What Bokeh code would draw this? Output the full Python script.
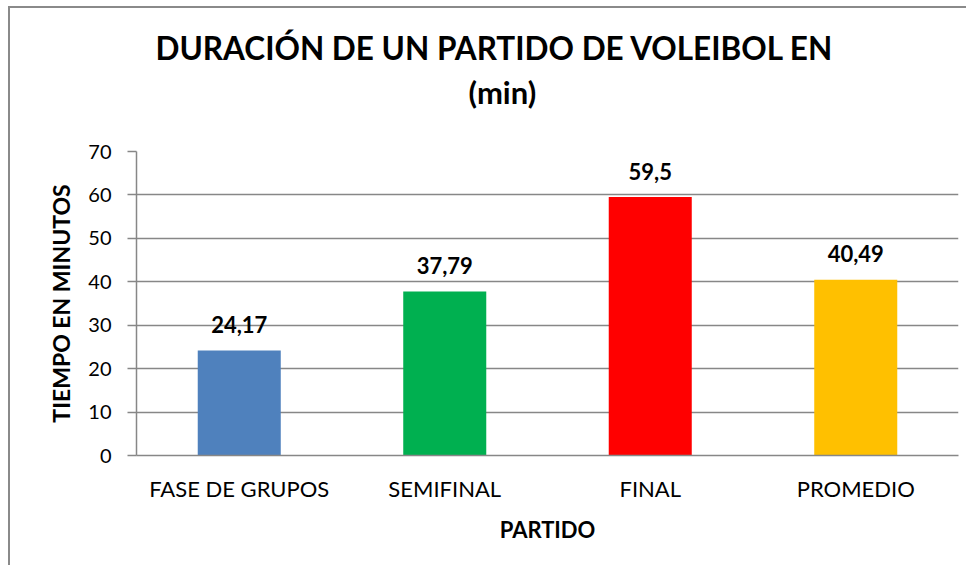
from bokeh.plotting import figure
from bokeh.models import ColumnDataSource, Range1d, FactorRange, FixedTicker, Title
from bokeh.core.properties import value
from bokeh.embed import file_html
from bokeh.resources import INLINE

categories = ["FASE DE GRUPOS", "SEMIFINAL", "FINAL", "PROMEDIO"]
minutes = [24.17, 37.79, 59.5, 40.49]
colors = ["#4F81BD", "#00B050", "#FF0000", "#FFC000"]
y_ticks = [0, 10, 20, 30, 40, 50, 60, 70]
title_line1 = "DURACIÓN DE UN PARTIDO DE VOLEIBOL EN"
title_line2 = "(min)"
x_title = "PARTIDO"
y_title = "TIEMPO EN MINUTOS"

labels = [str(v).replace(".", ",") for v in minutes]
source = ColumnDataSource(dict(cat=categories, val=minutes, color=colors, label=labels))

FONT = "Lato"
GRAY = "#878787"

p = figure(
    x_range=FactorRange(*categories, range_padding=0),
    y_range=Range1d(0, 70),
    width=966, height=565,
    output_backend="svg", toolbar_location=None,
    min_border_left=136, min_border_right=8,
    min_border_top=151, min_border_bottom=110,
)
p.styles = {
    "background-color": "white",
    "background-image": "linear-gradient(#8a8a8a, #8a8a8a), linear-gradient(#8a8a8a, #8a8a8a)",
    "background-size": "2px 100%, 100% 2px",
    "background-position": "8px 6px, 8px 6px",
    "background-repeat": "no-repeat",
}
p.outline_line_color = None
p.background_fill_color = "white"
p.border_fill_color = None

p.vbar(x="cat", top="val", width=0.404, color="color", line_color=None, source=source)

p.text(x="cat", y="val", text="label", source=source,
       text_align="center", text_baseline="middle", y_offset=-26,
       text_font=value(FONT), text_font_style="bold", text_font_size="22px",
       text_color="black")

# grid
p.xgrid.grid_line_color = None
p.ygrid.grid_line_color = GRAY
p.ygrid.grid_line_width = 1.3
p.ygrid.ticker = FixedTicker(ticks=y_ticks)

# y axis
p.yaxis.ticker = FixedTicker(ticks=y_ticks)
p.yaxis.axis_line_color = GRAY
p.yaxis.axis_line_width = 1.5
p.yaxis.major_tick_line_color = GRAY
p.yaxis.major_tick_line_width = 1.5
p.yaxis.major_tick_out = 9
p.yaxis.major_tick_in = 0
p.yaxis.minor_tick_line_color = None
p.yaxis.major_label_text_font = FONT
p.yaxis.major_label_text_font_size = "20px"
p.yaxis.major_label_text_color = "black"
p.yaxis.major_label_standoff = 16
p.yaxis.axis_label = y_title
p.yaxis.axis_label_text_font = FONT
p.yaxis.axis_label_text_font_style = "bold"
p.yaxis.axis_label_text_font_size = "23px"
p.yaxis.axis_label_text_color = "black"
p.yaxis.axis_label_standoff = 10

# x axis
p.xaxis.axis_line_color = GRAY
p.xaxis.axis_line_width = 1.5
p.xaxis.major_tick_line_color = None
p.xaxis.minor_tick_line_color = None
p.xaxis.major_label_text_font = FONT
p.xaxis.major_label_text_font_size = "22px"
p.xaxis.major_label_text_color = "black"
p.xaxis.major_label_standoff = 13
p.xaxis.axis_label = x_title
p.xaxis.axis_label_text_font = FONT
p.xaxis.axis_label_text_font_style = "bold"
p.xaxis.axis_label_text_font_size = "22px"
p.xaxis.axis_label_text_color = "black"
p.xaxis.axis_label_standoff = 11

# two-line title: first added sits closest to the frame (spacer first)
p.add_layout(Title(text=" ", text_font_size="1px", standoff=38), "above")
p.add_layout(Title(text=title_line2, align="left", offset=332, standoff=0,
                   text_font=FONT, text_font_style="bold", text_font_size="31px",
                   text_color="black"), "above")
p.add_layout(Title(text=title_line1, align="left", offset=19, standoff=8,
                   text_font=FONT, text_font_style="bold", text_font_size="31.5px",
                   text_color="black"), "above")

open("out.html", "w").write(file_html(p, INLINE))
